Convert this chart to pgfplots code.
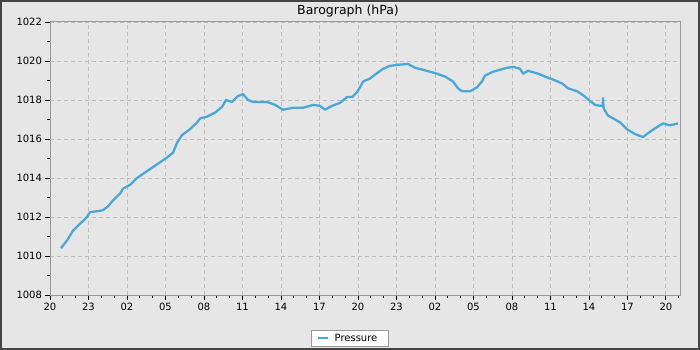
\documentclass[border=0pt]{standalone}
\usepackage{fontspec}
\setmainfont{DejaVu Sans}
\usepackage{pgfplots}
\pgfplotsset{compat=1.18}
\definecolor{bg}{HTML}{E6E6E6}
\definecolor{frame}{HTML}{444444}
\definecolor{axisgrey}{HTML}{999999}
\definecolor{gridgrey}{HTML}{BDBDBD}
\definecolor{line}{HTML}{4AA8D8}
\begin{document}
\begin{tikzpicture}[x=1pt,y=1pt]
\path[use as bounding box] (0,0) rectangle (700,350);
\fill[bg] (0,0) rectangle (700,350);
\draw[frame, line width=2pt] (1,1) rectangle (699,349);
\node[font=\fontsize{12.5}{14}\selectfont, anchor=center, inner sep=0pt] at (348,339) {Barograph (hPa)};
\begin{axis}[
  scale only axis,
  width=630pt, height=273pt,
  anchor=south west, at={(50pt,55pt)},
  xmin=0, xmax=49.1, ymin=1008, ymax=1022,
  xtick={0,3,...,48},
  xticklabels={20,23,02,05,08,11,14,17,20,23,02,05,08,11,14,17,20},
  minor xtick={0,1,...,49},
  ytick={1008,1010,...,1022},
  minor ytick={1009,1011,...,1021},
  yticklabel style={/pgf/number format/.cd, set thousands separator={}, assume math mode=true},
  tick label style={font=\fontsize{10}{12}\selectfont, text=black},
  tick align=outside,
  major tick length=4.5pt, minor tick length=3pt,
  xtick pos=bottom, ytick pos=left,
  every tick/.style={black, line width=0.8pt},
  axis line style={axisgrey, line width=1pt},
  axis background/.style={fill=bg},
  xmajorgrids, ymajorgrids,
  major grid style={gridgrey, dash pattern=on 4pt off 3pt, line width=0.8pt},
  legend style={at={(0.4762,-0.159)}, anchor=center, draw=axisgrey, fill=white, font=\fontsize{10}{12}\selectfont, inner xsep=5pt, inner ysep=2pt, row sep=0pt,
    nodes={inner xsep=6pt, inner ysep=1.5pt}},
  legend image code/.code={\draw[#1, line width=2pt] (0pt,0pt) -- (10pt,0pt);},
]
\addplot[line, line width=2.3pt, line join=round] coordinates {
(0.86,1010.4) (1.33,1010.8) (1.79,1011.3) (2.34,1011.65) (2.88,1012.0)
(3.12,1012.25) (3.74,1012.3) (4.13,1012.35) (4.52,1012.55) (4.91,1012.85)
(5.46,1013.2) (5.69,1013.45) (6.24,1013.65) (6.78,1014.0) (7.56,1014.35)
(8.34,1014.7) (9.12,1015.05) (9.59,1015.3) (9.90,1015.8) (10.29,1016.2)
(10.91,1016.5) (11.46,1016.85) (11.69,1017.05) (12.24,1017.15) (12.86,1017.35)
(13.41,1017.65) (13.72,1018.0) (14.19,1017.9) (14.65,1018.2) (15.04,1018.3)
(15.43,1018.0) (15.82,1017.9) (16.37,1017.9) (16.91,1017.9) (17.54,1017.75)
(18.16,1017.5) (18.94,1017.6) (19.72,1017.6) (20.50,1017.75) (21.04,1017.7)
(21.43,1017.5) (21.98,1017.7) (22.60,1017.85) (23.15,1018.15) (23.54,1018.15)
(23.93,1018.4) (24.16,1018.65) (24.40,1018.95) (24.94,1019.1) (25.33,1019.3)
(25.95,1019.6) (26.50,1019.75) (27.05,1019.8) (27.90,1019.85) (28.45,1019.65)
(29.07,1019.55) (29.62,1019.45) (30.16,1019.35) (30.79,1019.2) (31.41,1018.95)
(31.80,1018.6) (32.11,1018.45) (32.74,1018.45) (33.28,1018.65) (33.67,1018.95)
(33.90,1019.25) (34.53,1019.45) (35.07,1019.55) (35.62,1019.65) (36.09,1019.7)
(36.63,1019.6) (36.87,1019.35) (37.26,1019.5) (38.04,1019.35) (38.58,1019.2)
(39.20,1019.05) (39.91,1018.85) (40.37,1018.6) (41.08,1018.45) (41.54,1018.25)
(42.09,1017.95) (42.48,1017.75) (42.87,1017.7) (43.08,1017.7) (43.10,1018.1)
(43.14,1017.6) (43.26,1017.45) (43.49,1017.2) (44.04,1017.0) (44.43,1016.85)
(44.97,1016.5) (45.60,1016.25) (46.22,1016.1) (46.61,1016.3) (47.16,1016.55)
(47.78,1016.8) (48.32,1016.7) (48.95,1016.8)
};
\addlegendentry{Pressure}
\end{axis}
\end{tikzpicture}
\end{document}
